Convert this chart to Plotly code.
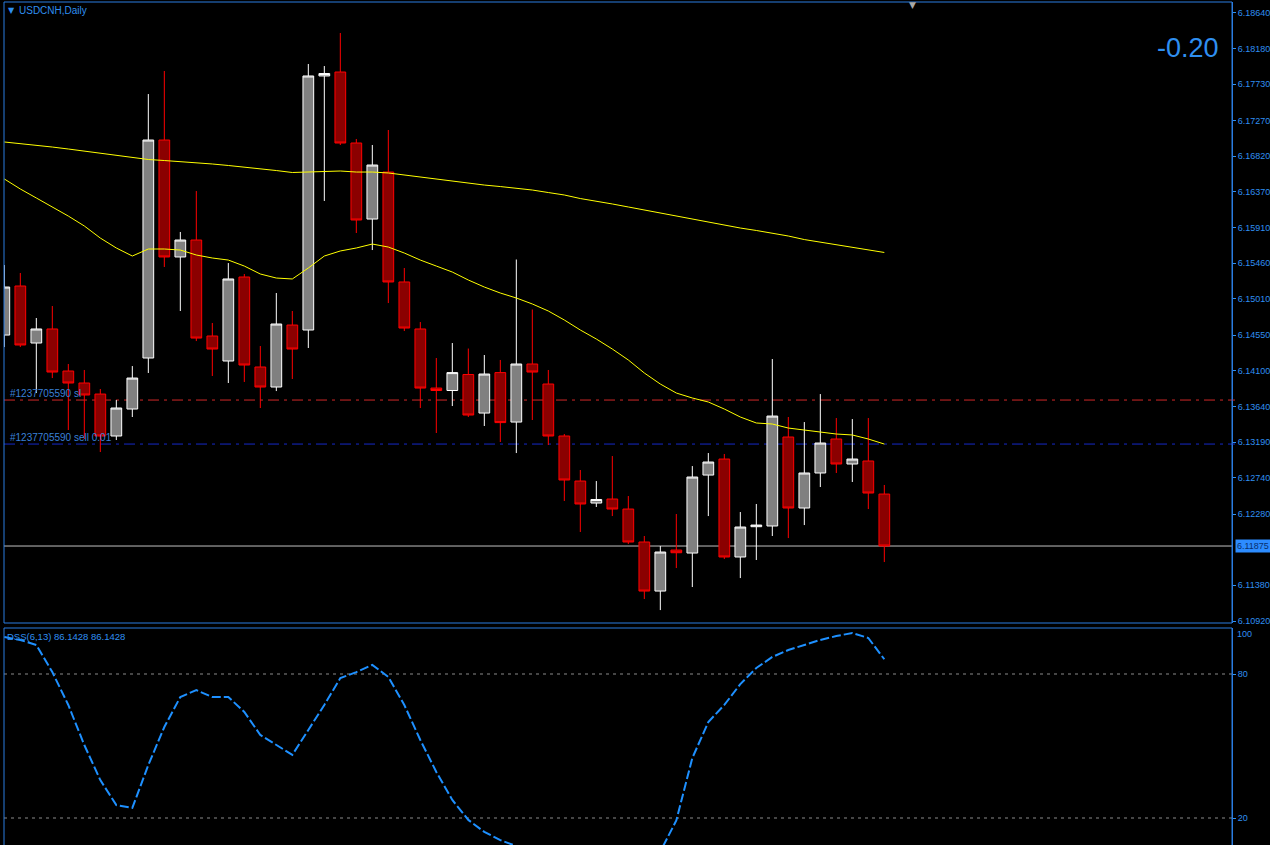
import plotly.graph_objects as go

# ---------------- data ----------------
bars = list(range(56))

opens = [6.14550, 6.15172, 6.14449, 6.14627, 6.14094, 6.13942, 6.13802, 6.13270, 6.13612, 6.14259,
         6.17023, 6.15540, 6.15755, 6.14538, 6.14221, 6.15286, 6.14145, 6.13891, 6.14677, 6.14614,
         6.17835, 6.17885, 6.16985, 6.16021, 6.16617, 6.15223, 6.14627, 6.13878, 6.13847, 6.14050,
         6.13561, 6.14074, 6.13447, 6.14183, 6.13929, 6.13270, 6.12699, 6.12420, 6.12471, 6.12344,
         6.11926, 6.11304, 6.11824, 6.11786, 6.12775, 6.12978, 6.11736, 6.12120, 6.12129, 6.13257,
         6.12357, 6.12801, 6.13232, 6.12915, 6.12953, 6.12534]

highs = [6.15438, 6.15337, 6.14766, 6.14918, 6.14183, 6.14107, 6.13866, 6.13726, 6.14157, 6.17606,
         6.17898, 6.15857, 6.16376, 6.14703, 6.15463, 6.15324, 6.14411, 6.15083, 6.14855, 6.17987,
         6.17961, 6.18380, 6.17036, 6.16960, 6.17150, 6.15400, 6.14715, 6.14259, 6.14449, 6.14379,
         6.14297, 6.14234, 6.15508, 6.14874, 6.14107, 6.13295, 6.12839, 6.12699, 6.13016, 6.12509,
         6.12002, 6.11875, 6.12281, 6.12889, 6.13054, 6.13042, 6.12306, 6.12408, 6.14246, 6.13511,
         6.13447, 6.13802, 6.13498, 6.13485, 6.13498, 6.12649]

lows = [6.14398, 6.14398, 6.13815, 6.14005, 6.13346, 6.13232, 6.13067, 6.13219, 6.13511, 6.14069,
        6.15413, 6.14855, 6.14474, 6.14031, 6.13942, 6.13955, 6.13625, 6.13840, 6.13993, 6.14386,
        6.16250, 6.16960, 6.15844, 6.15628, 6.14956, 6.14601, 6.13625, 6.13308, 6.13650, 6.13511,
        6.13397, 6.13194, 6.13054, 6.13473, 6.13156, 6.12446, 6.12053, 6.12370, 6.12255, 6.11900,
        6.11203, 6.11063, 6.11596, 6.11355, 6.12255, 6.11710, 6.11469, 6.11698, 6.12002, 6.11976,
        6.12141, 6.12623, 6.12801, 6.12687, 6.12344, 6.11672]

closes = [6.15159, 6.14424, 6.14627, 6.14081, 6.13942, 6.13790, 6.13270, 6.13625, 6.14005, 6.17023,
          6.15540, 6.15755, 6.14512, 6.14373, 6.15261, 6.14170, 6.13891, 6.14690, 6.14373, 6.17835,
          6.17866, 6.16985, 6.16009, 6.16706, 6.15223, 6.14639, 6.13878, 6.13847, 6.14074, 6.13536,
          6.14056, 6.13440, 6.14183, 6.14081, 6.13270, 6.12712, 6.12408, 6.12465, 6.12344, 6.11926,
          6.11304, 6.11799, 6.11790, 6.12750, 6.12940, 6.11736, 6.12116, 6.12141, 6.13523, 6.12357,
          6.12801, 6.13181, 6.12915, 6.12978, 6.12547, 6.11875]

ma_slow = [6.16998, 6.16979, 6.16960, 6.16934, 6.16909, 6.16884, 6.16858, 6.16833, 6.16808, 6.16776,
           6.16763, 6.16750, 6.16738, 6.16719, 6.16700, 6.16681, 6.16662, 6.16636, 6.16611, 6.16617,
           6.16624, 6.16630, 6.16617, 6.16617, 6.16605, 6.16579, 6.16554, 6.16529, 6.16503, 6.16478,
           6.16452, 6.16433, 6.16414, 6.16389, 6.16357, 6.16326, 6.16281, 6.16250, 6.16212, 6.16174,
           6.16135, 6.16097, 6.16059, 6.16021, 6.15983, 6.15945, 6.15907, 6.15876, 6.15844, 6.15806,
           6.15761, 6.15730, 6.15698, 6.15666, 6.15635, 6.15597]

ma_fast = [6.16529, 6.16402, 6.16288, 6.16174, 6.16059, 6.15933, 6.15780, 6.15654, 6.15552, 6.15641,
           6.15641, 6.15628, 6.15565, 6.15527, 6.15501, 6.15425, 6.15324, 6.15273, 6.15261, 6.15400,
           6.15552, 6.15616, 6.15654, 6.15704, 6.15666, 6.15590, 6.15501, 6.15425, 6.15349, 6.15248,
           6.15159, 6.15083, 6.15020, 6.14944, 6.14855, 6.14741, 6.14614, 6.14500, 6.14373, 6.14234,
           6.14069, 6.13929, 6.13815, 6.13752, 6.13701, 6.13612, 6.13511, 6.13435, 6.13422, 6.13371,
           6.13346, 6.13321, 6.13295, 6.13283, 6.13232, 6.13168]

dss = [95.4, 94.2, 92.1, 80.8, 67.1, 50.4, 35.8, 25.4, 24.2, 42.1,
       57.9, 70.4, 73.3, 70.4, 70.4, 64.2, 54.6, 50.4, 46.3, 56.7,
       67.1, 78.3, 80.8, 83.8, 78.8, 67.1, 52.5, 39.2, 27.5, 19.2,
       14.2, 10.8, 8.3, 5.0, 2.5, 1.0, 0.0, 0.0, 0.5, 1.5,
       3.5, 6.0, 19.0, 45.0, 60.0, 67.1, 75.8, 82.5, 87.1, 90.0,
       92.1, 94.2, 95.8, 97.1, 95.0, 86.1428]

price_ticks = [6.18640, 6.18180, 6.17730, 6.17270, 6.16820, 6.16370, 6.15910, 6.15460, 6.15010,
               6.14550, 6.14100, 6.13640, 6.13190, 6.12740, 6.12280, 6.11380, 6.10920]
price_tick_text = ["6.18640", "6.18180", "6.17730", "6.17270", "6.16820", "6.16370", "6.15910",
                   "6.15460", "6.15010", "6.14550", "6.14100", "6.13640", "6.13190", "6.12740",
                   "6.12280", "6.11380", "6.10920"]
dss_ticks = [80, 20]
dss_tick_text = ["80", "20"]
dss_levels = [80, 20]

sl_level = 6.13726
entry_level = 6.13168
bid_level = 6.11875
bid_text = "6.11875"
symbol_text = "USDCNH,Daily"
profit_text = "-0.20"
sl_text = "#1237705590 sl"
entry_text = "#1237705590 sell 0.01"
dss_text = "DSS(6,13) 86.1428 86.1428"

# ---------------- layout geometry ----------------
W, H = 1270, 845
ML, MR, MT, MB = 4, 38, 2, 0
PW, PH = W - ML - MR, H - MT - MB


def fx(px):
    return (px - ML) / PW


def fy(py):
    return (H - MB - py) / PH


BLUE = "#2f8ff0"
BORDER = "#2b7de0"
FONT = "Liberation Sans"
TICK_SIZE = 9

fig = go.Figure()

fig.add_trace(go.Candlestick(
    x=bars, open=opens, high=highs, low=lows, close=closes,
    increasing=dict(line=dict(color="#ffffff", width=1), fillcolor="#808080"),
    decreasing=dict(line=dict(color="#ff0000", width=1), fillcolor="#8b0000"),
    xaxis="x", yaxis="y", hoverinfo="skip", showlegend=False,
))
fig.add_trace(go.Scatter(x=bars, y=ma_slow, mode="lines", line=dict(color="#ffff00", width=1),
                         xaxis="x", yaxis="y", hoverinfo="skip", showlegend=False))
fig.add_trace(go.Scatter(x=bars, y=ma_fast, mode="lines", line=dict(color="#ffff00", width=1),
                         xaxis="x", yaxis="y", hoverinfo="skip", showlegend=False))
fig.add_trace(go.Scatter(x=bars, y=dss, mode="lines",
                         line=dict(color="#1e90ff", width=2, dash="9px,3px"),
                         xaxis="x2", yaxis="y2", hoverinfo="skip", showlegend=False))

xr = [-0.02, 76.73]
main_bottom = fy(623)
sub_top = fy(628)

shapes = []
# horizontal order / price lines
shapes.append(dict(type="line", xref="paper", yref="y", x0=0, x1=1, y0=sl_level, y1=sl_level,
                   line=dict(color="#d02828", width=1, dash="11px,5px,3px,5px"), layer="below"))
shapes.append(dict(type="line", xref="paper", yref="y", x0=0, x1=1, y0=entry_level, y1=entry_level,
                   line=dict(color="#1428c8", width=1, dash="11px,5px,3px,5px"), layer="below"))
shapes.append(dict(type="line", xref="paper", yref="y", x0=0, x1=1, y0=bid_level, y1=bid_level,
                   line=dict(color="#c0c0c0", width=1), layer="below"))
# axis stubs for the order lines
shapes.append(dict(type="line", xref="paper", yref="y", x0=1, x1=1 + 3 / PW, y0=sl_level, y1=sl_level,
                   line=dict(color="#d02828", width=1)))
shapes.append(dict(type="line", xref="paper", yref="y", x0=1, x1=1 + 3 / PW, y0=entry_level, y1=entry_level,
                   line=dict(color="#1428c8", width=1)))
# DSS levels
for lv in dss_levels:
    shapes.append(dict(type="line", xref="paper", yref="y2", x0=0, x1=1, y0=lv, y1=lv,
                       line=dict(color="#8a8a8a", width=1, dash="3px,4px"), layer="below"))
# pane borders
shapes.append(dict(type="rect", xref="paper", yref="paper", x0=0, x1=1, y0=main_bottom, y1=1,
                   line=dict(color=BORDER, width=1)))
shapes.append(dict(type="rect", xref="paper", yref="paper", x0=0, x1=1, y0=-0.01, y1=sub_top,
                   line=dict(color=BORDER, width=1)))

annotations = [
    dict(text="▼", x=fx(11), y=fy(11), xref="paper", yref="paper", showarrow=False,
         font=dict(family="DejaVu Sans", size=8, color=BLUE), xanchor="center", yanchor="middle"),
    dict(text=symbol_text, x=fx(17), y=fy(11), xref="paper", yref="paper", showarrow=False,
         font=dict(family=FONT, size=10, color=BLUE), xanchor="left", yanchor="middle"),
    dict(text="▼", x=fx(912), y=fy(5), xref="paper", yref="paper", showarrow=False,
         font=dict(family="DejaVu Sans", size=9, color="#a8a8a8"), xanchor="center", yanchor="middle"),
    dict(text=profit_text, x=fx(1221), y=fy(48), xref="paper", yref="paper", showarrow=False,
         font=dict(family=FONT, size=27, color=BLUE), xanchor="right", yanchor="middle"),
    dict(text=sl_text, x=fx(8), y=fy(394), xref="paper", yref="paper", showarrow=False,
         font=dict(family=FONT, size=10, color="#3a80d8"), xanchor="left", yanchor="middle"),
    dict(text=entry_text, x=fx(8), y=fy(437.5), xref="paper", yref="paper", showarrow=False,
         font=dict(family=FONT, size=10, color="#3a80d8"), xanchor="left", yanchor="middle"),
    dict(text=dss_text, x=fx(5), y=fy(636), xref="paper", yref="paper", showarrow=False,
         font=dict(family=FONT, size=9.5, color=BLUE), xanchor="left", yanchor="middle"),
    dict(text="100", x=fx(1235), y=fy(634), xref="paper", yref="paper", showarrow=False,
         font=dict(family=FONT, size=TICK_SIZE, color=BLUE), xanchor="left", yanchor="middle"),
    dict(text=bid_text, x=fx(1235), y=bid_level, xref="paper", yref="y", showarrow=False,
         font=dict(family=FONT, size=TICK_SIZE, color="#08306e"), bgcolor="#2d8cff",
         xanchor="left", yanchor="middle", borderpad=1),
]

fig.update_layout(
    width=W, height=H, autosize=False,
    margin=dict(l=ML, r=MR, t=MT, b=MB, pad=0, autoexpand=False),
    paper_bgcolor="#000000", plot_bgcolor="#000000",
    showlegend=False, hovermode=False,
    boxgap=0.33, boxgroupgap=0,
    xaxis=dict(domain=[0, 1], range=xr, visible=False, anchor="y", rangeslider=dict(visible=False),
               fixedrange=True, automargin=False),
    xaxis2=dict(domain=[0, 1], range=xr, visible=False, anchor="y2", fixedrange=True, automargin=False),
    yaxis=dict(domain=[main_bottom, 1], range=[6.10899, 6.18773], side="right", anchor="x",
               tickvals=price_ticks, ticktext=price_tick_text, ticks="outside", ticklen=3,
               tickcolor=BLUE, tickfont=dict(family=FONT, size=TICK_SIZE, color=BLUE), automargin=False,
               showline=True, linecolor=BORDER, linewidth=1, showgrid=False, zeroline=False),
    yaxis2=dict(domain=[0, sub_top], range=[8.75, 99.17], side="right", anchor="x2",
                tickvals=dss_ticks, ticktext=dss_tick_text, ticks="outside", ticklen=3,
                tickcolor=BLUE, tickfont=dict(family=FONT, size=TICK_SIZE, color=BLUE), automargin=False,
                showline=True, linecolor=BORDER, linewidth=1, showgrid=False, zeroline=False),
    shapes=shapes,
    annotations=annotations,
)

fig.write_html("out.html")
